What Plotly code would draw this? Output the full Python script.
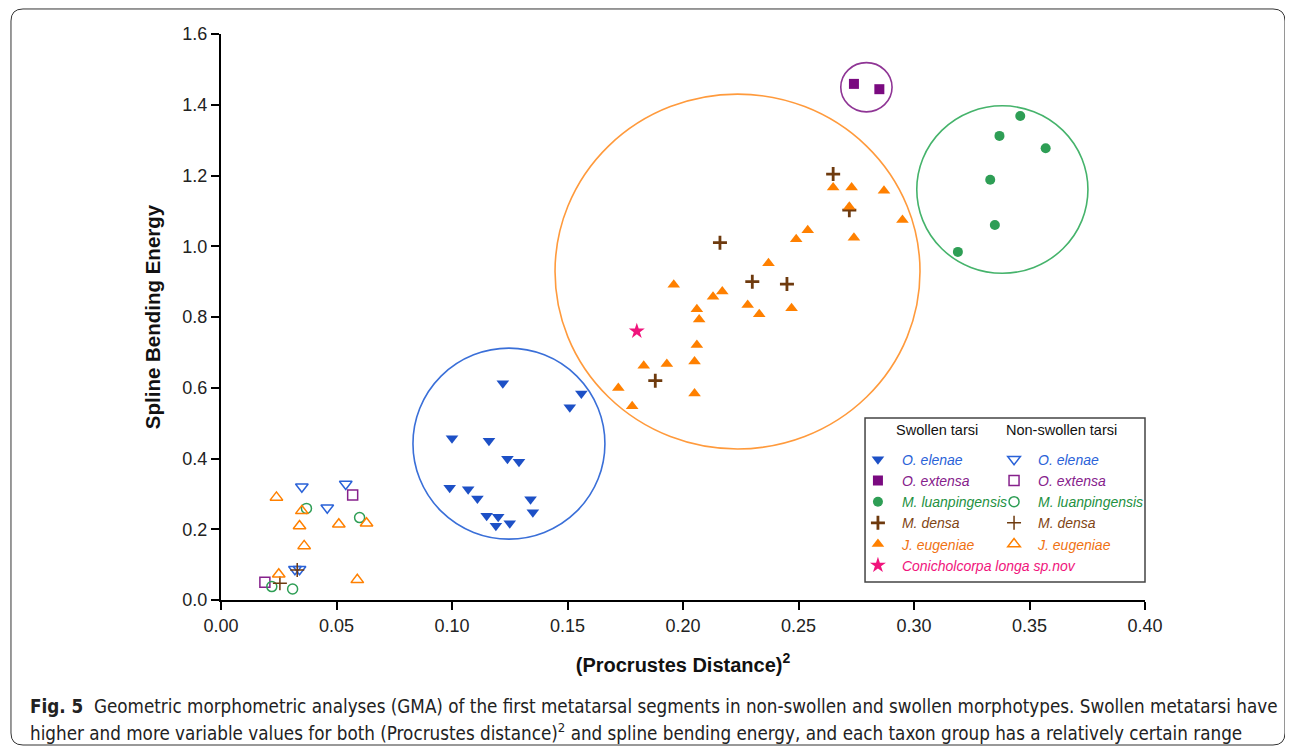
import plotly.graph_objects as go

# ---------------- data ----------------
oe_sw_x = [0.122, 0.156, 0.151, 0.100, 0.116, 0.124, 0.129, 0.099, 0.107, 0.111, 0.134, 0.135, 0.115, 0.120, 0.119, 0.125]
oe_sw_y = [0.613, 0.584, 0.545, 0.457, 0.450, 0.399, 0.391, 0.317, 0.313, 0.287, 0.285, 0.248, 0.238, 0.235, 0.210, 0.217]
oe_ns_x = [0.035, 0.054, 0.046, 0.032, 0.034]
oe_ns_y = [0.320, 0.328, 0.261, 0.087, 0.087]

ox_sw_x = [0.274, 0.285]
ox_sw_y = [1.459, 1.444]
ox_ns_x = [0.057, 0.019]
ox_ns_y = [0.297, 0.050]

ml_sw_x = [0.346, 0.337, 0.357, 0.333, 0.335, 0.319]
ml_sw_y = [1.368, 1.312, 1.277, 1.188, 1.060, 0.984]
ml_ns_x = [0.037, 0.060, 0.022, 0.031]
ml_ns_y = [0.259, 0.233, 0.038, 0.031]

md_sw_x = [0.265, 0.272, 0.216, 0.230, 0.245, 0.188]
md_sw_y = [1.204, 1.102, 1.010, 0.900, 0.893, 0.620]
md_ns_x = [0.033, 0.0255]
md_ns_y = [0.085, 0.047]

je_sw_x = [0.265, 0.273, 0.287, 0.272, 0.295, 0.274, 0.254, 0.249, 0.237, 0.196, 0.217, 0.213,
           0.228, 0.233, 0.247, 0.206, 0.207, 0.206, 0.205, 0.183, 0.193, 0.205, 0.172, 0.178]
je_sw_y = [1.166, 1.166, 1.157, 1.112, 1.074, 1.024, 1.045, 1.020, 0.952, 0.891, 0.872, 0.857,
           0.834, 0.808, 0.825, 0.822, 0.793, 0.721, 0.674, 0.662, 0.667, 0.584, 0.599, 0.548]
je_ns_x = [0.024, 0.035, 0.034, 0.051, 0.063, 0.036, 0.025, 0.059]
je_ns_y = [0.290, 0.252, 0.209, 0.214, 0.217, 0.153, 0.073, 0.057]

cl_x = [0.180]
cl_y = [0.760]

# cluster ellipses: (x0, x1, y0, y1)
cluster_blue = (0.0831, 0.1662, 0.172, 0.712)
cluster_orange = (0.1446, 0.3026, 0.427, 1.430)
cluster_green = (0.3012, 0.3753, 0.9235, 1.397)
cluster_purple = (0.2683, 0.2905, 1.380, 1.519)

x_ticks = [0.00, 0.05, 0.10, 0.15, 0.20, 0.25, 0.30, 0.35, 0.40]
y_ticks = [0.0, 0.2, 0.4, 0.6, 0.8, 1.0, 1.2, 1.4, 1.6]

# ---------------- styles ----------------
BLUE = "#1d50c6"
BLUE_T = "#2a62d8"
PURPLE = "#7a0a80"
PURPLE_T = "#86218c"
GREEN = "#2e9e55"
GREEN_T = "#23913f"
BROWN = "#6e3a0e"
BROWN_T = "#7f4514"
ORANGE = "#ff8000"
ORANGE_T = "#f07212"
PINK = "#f0147c"

def lname(txt, col):
    return "<span style='color:%s'><i>%s</i></span>" % (col, txt)

fig = go.Figure()

def add(x, y, name, symbol, size, color, legend, line_w=0, line_col=None):
    mk = dict(symbol=symbol, size=size, color=color)
    if line_col is not None:
        mk["line"] = dict(width=line_w, color=line_col)
    else:
        mk["line"] = dict(width=0)
    fig.add_trace(go.Scatter(x=x, y=y, mode="markers", name=name, marker=mk,
                             legend=legend, hoverinfo="skip"))

# swollen
add(oe_sw_x, oe_sw_y, lname("O. elenae", BLUE_T), "triangle-down", 11, BLUE, "legend")
add(ox_sw_x, ox_sw_y, lname("O. extensa", PURPLE_T), "square", 10, PURPLE, "legend")
add(ml_sw_x, ml_sw_y, lname("M. luanpingensis", GREEN_T), "circle", 10, GREEN, "legend")
add(md_sw_x, md_sw_y, lname("M. densa", BROWN_T), "cross-thin", 10, BROWN, "legend", 2.8, BROWN)
add(je_sw_x, je_sw_y, lname("J. eugeniae", ORANGE_T), "triangle-up", 11, ORANGE, "legend")
add(cl_x, cl_y, lname("Conicholcorpa longa sp.nov", PINK), "star", 12, PINK, "legend")
# non-swollen
add(oe_ns_x, oe_ns_y, lname("O. elenae", BLUE_T), "triangle-down-open", 11, BLUE_T, "legend2", 1.5, BLUE_T)
add(ox_ns_x, ox_ns_y, lname("O. extensa", PURPLE_T), "square-open", 10, PURPLE_T, "legend2", 1.5, PURPLE_T)
add(ml_ns_x, ml_ns_y, lname("M. luanpingensis", GREEN_T), "circle-open", 10, GREEN, "legend2", 1.5, GREEN)
add(md_ns_x, md_ns_y, lname("M. densa", BROWN_T), "cross-thin", 10, BROWN, "legend2", 1.5, BROWN)
add(je_ns_x, je_ns_y, lname("J. eugeniae", ORANGE_T), "triangle-up-open", 11, ORANGE, "legend2", 1.5, ORANGE)

shapes = []
for (c, col) in [(cluster_blue, "#3a6fd8"), (cluster_orange, "#ff9a3c"),
                 (cluster_green, "#45b36b"), (cluster_purple, "#8f3595")]:
    shapes.append(dict(type="circle", xref="x", yref="y", x0=c[0], x1=c[1], y0=c[2], y1=c[3],
                       line=dict(color=col, width=1.6), layer="below"))

# legend box
shapes.append(dict(type="rect", xref="paper", yref="paper", x0=0.697, x1=1.0, y0=0.0318, y1=0.3216,
                   line=dict(color="#444444", width=1.5), fillcolor="rgba(0,0,0,0)", layer="below"))

# outer rounded frame (paper coords)
L, R, T, B = -0.2273, 1.1515, 1.0442, -0.2562
rx, ry = 0.013, 0.0212
frame = ("M %f,%f L %f,%f Q %f,%f %f,%f L %f,%f Q %f,%f %f,%f L %f,%f Q %f,%f %f,%f L %f,%f Q %f,%f %f,%f Z" % (
    L + rx, T, R - rx, T, R, T, R, T - ry, R, B + ry, R, B, R - rx, B,
    L + rx, B, L, B, L, B + ry, L, T - ry, L, T, L + rx, T))
shapes.append(dict(type="path", xref="paper", yref="paper", path=frame,
                   line=dict(color="#333333", width=1), layer="below"))

FONT = "Liberation Sans, Arial, sans-serif"
CAP_FONT = "Liberation Sans Narrow, DejaVu Sans Condensed, sans-serif"

annotations = [
    dict(text="Swollen tarsi", xref="paper", yref="paper", x=0.7284, y=0.3004,
         xanchor="left", yanchor="middle", showarrow=False, font=dict(family=FONT, size=14.5, color="#111")),
    dict(text="Non-swollen tarsi", xref="paper", yref="paper", x=0.8474, y=0.3004,
         xanchor="left", yanchor="middle", showarrow=False, font=dict(family=FONT, size=14.5, color="#111")),
    dict(text="<b>Fig. 5</b>  Geometric morphometric analyses (GMA) of the first metatarsal segments in non-swollen and swollen morphotypes. Swollen metatarsi have",
         xref="paper", yref="paper", x=-0.2089, y=-0.1873, xanchor="left", yanchor="middle",
         showarrow=False, font=dict(family=CAP_FONT, size=18.7, color="#222")),
    dict(text="higher and more variable values for both (Procrustes distance)<sup>2</sup> and spline bending energy, and each taxon group has a relatively certain range",
         xref="paper", yref="paper", x=-0.2089, y=-0.2332, xanchor="left", yanchor="middle",
         showarrow=False, font=dict(family=CAP_FONT, size=18.7, color="#222")),
]

axis_common = dict(showline=True, linecolor="black", linewidth=2, ticks="outside", ticklen=8,
                   tickwidth=2, tickcolor="black", showgrid=False, zeroline=False,
                   tickfont=dict(family=FONT, size=18, color="#222"))

# page has an 8px body margin, so the figure is 8px smaller and drawn from (8, 8)
fig.update_layout(
    width=1285, height=745,
    margin=dict(l=213, r=148, t=26, b=153),
    paper_bgcolor="white", plot_bgcolor="white",
    font=dict(family=FONT),
    xaxis=dict(range=[0, 0.4], tickvals=x_ticks, ticktext=["%.2f" % v for v in x_ticks],
               title=dict(text="<b>(Procrustes Distance)<sup>2</sup></b>", standoff=23,
                          font=dict(family=FONT, size=20, color="#111")), **axis_common),
    yaxis=dict(range=[0, 1.6], tickvals=y_ticks, ticktext=["%.1f" % v for v in y_ticks],
               title=dict(text="<b>Spline Bending Energy</b>", standoff=16,
                          font=dict(family=FONT, size=20.5, color="#111")), **axis_common),
    showlegend=True,
    legend=dict(x=0.685, y=0.2762, xanchor="left", yanchor="top", bgcolor="rgba(0,0,0,0)",
                borderwidth=0, itemwidth=38, font=dict(family=FONT, size=14),
                traceorder="normal", itemclick=False, itemdoubleclick=False),
    legend2=dict(x=0.8323, y=0.2762, xanchor="left", yanchor="top", bgcolor="rgba(0,0,0,0)",
                 borderwidth=0, itemwidth=38, font=dict(family=FONT, size=14),
                 traceorder="normal", itemclick=False, itemdoubleclick=False),
    shapes=shapes,
    annotations=annotations,
)

fig.write_html("out.html")
